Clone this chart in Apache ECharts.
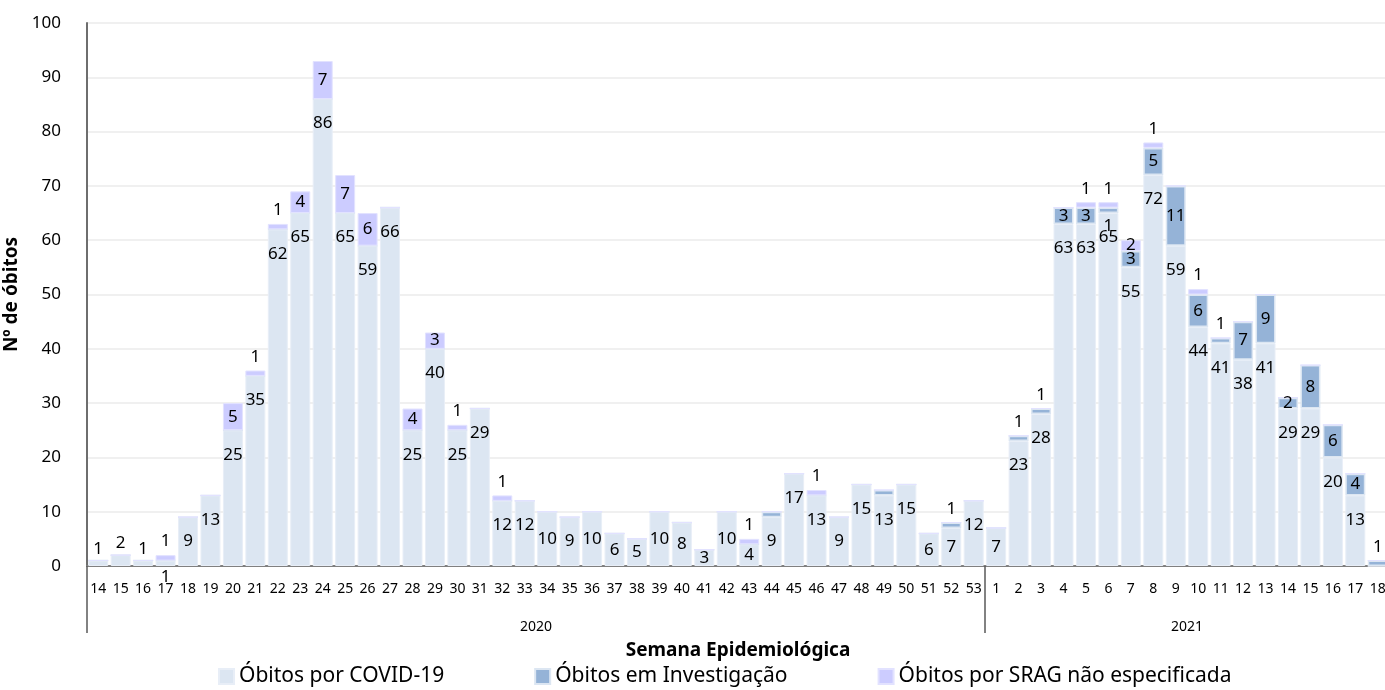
<!DOCTYPE html>
<html>
<head>
<meta charset="utf-8">
<script src="https://cdn.jsdelivr.net/npm/echarts@6/dist/echarts.min.js"></script>
<style>
  html, body { margin: 0; padding: 0; background: #fff; }
  #chart { width: 1385px; height: 690px; }
</style>
</head>
<body>
<div id="chart"></div>
<script>
  // semanas epidemiológicas 2020 (14-53) e 2021 (1-18)
  var semanas2020 = [14, 15, 16, 17, 18, 19, 20, 21, 22, 23, 24, 25, 26, 27, 28, 29, 30, 31, 32, 33,
    34, 35, 36, 37, 38, 39, 40, 41, 42, 43, 44, 45, 46, 47, 48, 49, 50, 51, 52, 53];
  var semanas2021 = [1, 2, 3, 4, 5, 6, 7, 8, 9, 10, 11, 12, 13, 14, 15, 16, 17, 18];
  var anos = ['2020', '2021'];

  var covid2020 = [1, 2, 1, 1, 9, 13, 25, 35, 62, 65, 86, 65, 59, 66, 25, 40, 25, 29, 12, 12,
    10, 9, 10, 6, 5, 10, 8, 3, 10, 4, 9, 17, 13, 9, 15, 13, 15, 6, 7, 12];
  var covid2021 = [7, 23, 28, 63, 63, 65, 55, 72, 59, 44, 41, 38, 41, 29, 29, 20, 13, 0];

  var investigacao2020 = [0, 0, 0, 0, 0, 0, 0, 0, 0, 0, 0, 0, 0, 0, 0, 0, 0, 0, 0, 0,
    0, 0, 0, 0, 0, 0, 0, 0, 0, 0, 1, 0, 0, 0, 0, 1, 0, 0, 1, 0];
  var investigacao2021 = [0, 1, 1, 3, 3, 1, 3, 5, 11, 6, 1, 7, 9, 2, 8, 6, 4, 1];

  var srag2020 = [0, 0, 0, 1, 0, 0, 5, 1, 1, 4, 7, 7, 6, 0, 4, 3, 1, 0, 1, 0,
    0, 0, 0, 0, 0, 0, 0, 0, 0, 1, 0, 0, 1, 0, 0, 0, 0, 0, 0, 0];
  var srag2021 = [0, 0, 0, 0, 1, 1, 2, 1, 0, 1, 0, 0, 0, 0, 0, 0, 0, 0];

  // rótulos que não aparecem no gráfico original
  var rotulosOcultos = ['2020-44', '2020-49'];

  var categorias = semanas2020.concat(semanas2021);
  var chaves = semanas2020.map(function (s) { return '2020-' + s; })
    .concat(semanas2021.map(function (s) { return '2021-' + s; }));
  var covid = covid2020.concat(covid2021);
  var investigacao = investigacao2020.concat(investigacao2021);
  var srag = srag2020.concat(srag2021);

  var fonte = '"Noto Sans", "Open Sans", sans-serif';
  var corCovid = '#dce6f2';
  var corInvest = '#95b3d7';
  var corSrag = '#ccccff';

  function dadosCovid() {
    return covid.map(function (v, i) {
      var temAcima = investigacao[i] + srag[i] > 0;
      var pos;
      if (v === 0) return { value: v, label: { show: false } };
      if (v <= 2) pos = temAcima ? 'bottom' : 'top';
      else if (v <= 10) pos = 'inside';
      else pos = 'insideTop';
      return { value: v, label: { position: pos, distance: pos === 'insideTop' ? 16 : 3 } };
    });
  }

  function dadosInvest() {
    return investigacao.map(function (v, i) {
      if (v === 0 || rotulosOcultos.indexOf(chaves[i]) >= 0) return { value: v, label: { show: false } };
      var pos = v >= 2 ? 'inside' : (srag[i] > 0 ? 'bottom' : 'top');
      return { value: v, label: { position: pos } };
    });
  }

  function dadosSrag() {
    return srag.map(function (v) {
      if (v === 0) return { value: v, label: { show: false } };
      return { value: v, label: { position: v >= 2 ? 'inside' : 'top' } };
    });
  }

  var rotulo = {
    show: true,
    color: '#000',
    fontFamily: fonte,
    fontSize: 17
  };

  var myChart = echarts.init(document.getElementById('chart'));
  myChart.setOption({
    backgroundColor: '#fff',
    animation: false,
    textStyle: { fontFamily: fonte },
    grid: { left: 87, right: -4, top: 23, bottom: 124, outerBoundsMode: 'none' },
    legend: {
      bottom: -2,
      left: 213,
      itemWidth: 15,
      itemHeight: 15,
      itemGap: 90,
      icon: 'rect',
      textStyle: { fontSize: 21, color: '#000', fontFamily: fonte },
      data: ['Óbitos por COVID-19', 'Óbitos em Investigação', 'Óbitos por SRAG não especificada']
    },
    xAxis: [{
        type: 'category',
        data: categorias,
        name: 'Semana Epidemiológica',
        nameLocation: 'middle',
        nameGap: 75,
        nameTextStyle: { fontSize: 19, fontWeight: 'bold', color: '#000' },
        axisLine: { lineStyle: { color: '#808080', width: 2 } },
        axisTick: { show: false },
        axisLabel: { fontSize: 14, color: '#000', margin: 16, interval: 0 }
      },
      {
        type: 'value',
        position: 'bottom',
        min: 0,
        max: categorias.length,
        axisLine: { show: false },
        splitLine: { show: false },
        axisTick: {
          show: true,
          length: 67,
          customValues: [0, semanas2020.length, categorias.length],
          lineStyle: { color: '#595959', width: 1.5 }
        },
        axisLabel: {
          margin: 54,
          fontSize: 14,
          color: '#000',
          customValues: [semanas2020.length / 2, semanas2020.length + semanas2021.length / 2],
          formatter: function (v) {
            return v < semanas2020.length ? anos[0] : anos[1];
          }
        }
      }
    ],
    yAxis: {
      type: 'value',
      min: 0,
      max: 100,
      interval: 10,
      name: 'Nº de óbitos',
      nameLocation: 'middle',
      nameGap: 66,
      nameTextStyle: { fontSize: 19, fontWeight: 'bold', color: '#000' },
      axisLine: { show: true, lineStyle: { color: '#6e6e6e', width: 2 } },
      axisTick: { show: false },
      axisLabel: { fontSize: 17, color: '#000', margin: 26 },
      splitLine: { lineStyle: { color: '#f0f0f0', width: 2 } }
    },
    series: [{
        name: 'Óbitos por COVID-19',
        type: 'bar',
        stack: 'total',
        barCategoryGap: '11%',
        itemStyle: { color: corCovid, borderColor: '#e8eef7', borderWidth: 1 },
        label: rotulo,
        data: dadosCovid()
      },
      {
        name: 'Óbitos em Investigação',
        type: 'bar',
        stack: 'total',
        itemStyle: { color: corInvest, borderColor: '#dce6f2', borderWidth: 1.5 },
        label: rotulo,
        data: dadosInvest()
      },
      {
        name: 'Óbitos por SRAG não especificada',
        type: 'bar',
        stack: 'total',
        itemStyle: { color: corSrag, borderColor: '#e2e2ff', borderWidth: 1 },
        label: rotulo,
        data: dadosSrag()
      }
    ]
  });
</script>
</body>
</html>
